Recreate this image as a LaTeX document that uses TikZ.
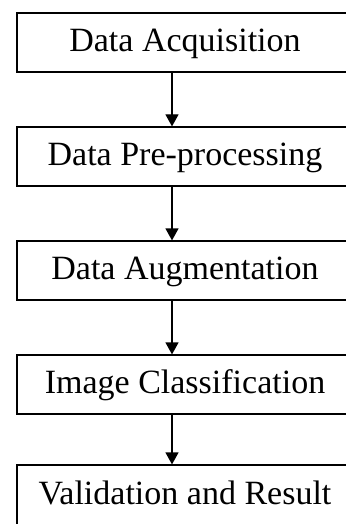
\documentclass[tikz,border=0pt]{standalone}
\usepackage{fontspec}
\setmainfont{Liberation Serif}
\usetikzlibrary{arrows.meta,positioning}

\begin{document}
\begin{tikzpicture}[x=1pt,y=1pt,->,>={Triangle[length=12pt,width=13pt]},node distance=114pt,line width=1.2pt]
\tikzstyle{stage}=[draw,rectangle,minimum width=336pt,minimum height=59pt,inner sep=0pt,text height=24pt,text depth=6pt,font=\fontsize{34}{40}\selectfont]
  \useasboundingbox (0,0) rectangle (345,-524);

  \node[stage] (acq) at (185,-42.5)        {Data Acquisition};
  \node[stage] (pre) [below of=acq]        {Data Pre-processing};
  \node[stage] (aug) [below of=pre]        {Data Augmentation};
  \node[stage] (cls) [below of=aug]        {Image Classification};
  \node[stage, minimum height=70pt, text depth=16pt] (val) [below of=cls, node distance=115.5pt] {Validation and Result};

  \foreach \a/\b in {acq/pre,pre/aug,aug/cls,cls/val}
    \draw ([xshift=-13pt]\a.south) -- ([xshift=-13pt]\b.north);
\end{tikzpicture}
\end{document}
